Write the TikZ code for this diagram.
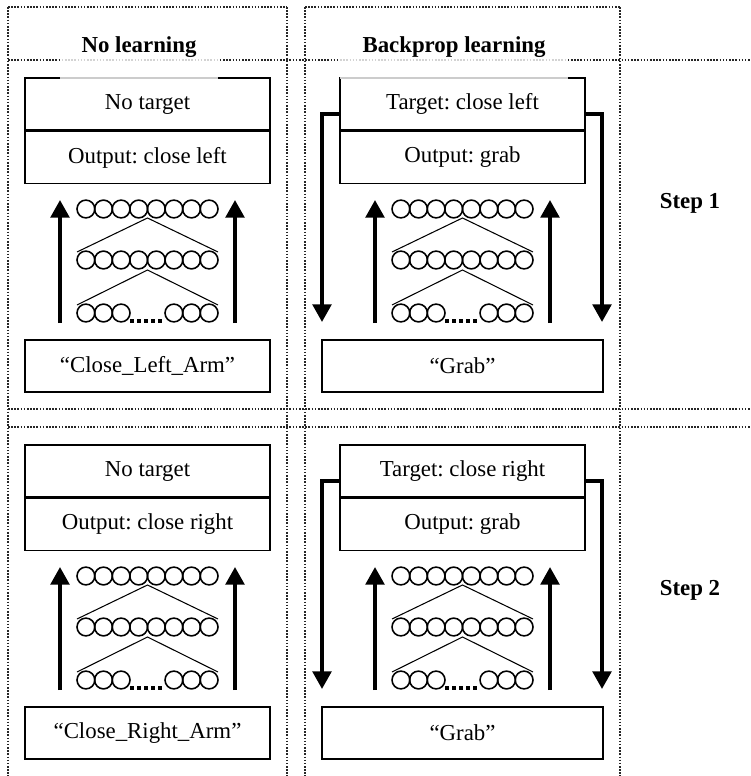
\documentclass[tikz,border=0pt]{standalone}
\usepackage{fontspec}
\setmainfont{Liberation Serif}
\usetikzlibrary{positioning,arrows.meta}
\frenchspacing

\tikzset{
  box/.style={draw, line width=0.8pt, minimum width=4.9cm, minimum height=1.04cm, inner sep=0pt},
  cellline/.style={line width=0.7pt, dash pattern=on 0.9pt off 0.9pt, black!85},
  flow/.style={line width=2.2pt, -{Triangle[width=10.5pt,length=10pt]}},
  neuron/.style={line width=0.9pt},
  heading/.style={font=\fontsize{13}{15}\selectfont\bfseries},
  title/.style={heading, fill=white, fill opacity=0.8, text opacity=1, minimum height=1.26cm, inner sep=0pt}
}

\begin{document}
\begin{tikzpicture}[x=0.02cm, y=-0.02cm, font=\fontsize{13}{15}\selectfont]
  \useasboundingbox (0,0) rectangle (750,776);

  % dotted grid
  \foreach \x in {8,287,305,620}
    \draw[cellline] (\x,7) -- (\x,776);
  \draw[cellline] (8,7) -- (287,7);
  \draw[cellline] (305,7) -- (620,7);
  \foreach \y in {60,409,427}
    \draw[cellline] (8,\y) -- (750,\y);

  % two steps
  \foreach \s/\dy/\sy/\nlo/\nli/\bpt in {1/0/203/close left/{“Close\_Left\_Arm”}/close left,
                                         2/367/590/close right/{“Close\_Right\_Arm”}/close right}{
    \node[box] (nltgt\s) at (147.5,{104+\dy}) {No target};
    \node[box, below=0pt of nltgt\s] (nlout\s) {Output: \nlo};
    \node[box] (nlin\s) at (147.5,{366+\dy}) {\nli};

    \node[box] (bptgt\s) at (462.5,{104+\dy}) {Target: \bpt};
    \node[box, below=0pt of bptgt\s] (bpout\s) {Output: grab};
    \node[box, minimum width=5.62cm] (bpin\s) at (462.5,{366+\dy}) {“Grab”};

    % error fed back
    \coordinate (fbl\s) at (322,{322+\dy});
    \coordinate (fbr\s) at (602,{322+\dy});
    \draw[flow] ([yshift=-0.2cm]bptgt\s.west) -| (fbl\s);
    \draw[flow] ([yshift=-0.2cm]bptgt\s.east) -| (fbr\s);

    \node[heading] (step\s) at (690,\sy) {Step \s};

    % network
    \foreach \c/\cx in {nl/147.5, bp/462.5}{
      \foreach \i in {0,...,7}{
        \draw[neuron] ({\cx-61.6+17.6*\i},{209+\dy}) circle (0.178cm);
        \draw[neuron] ({\cx-61.6+17.6*\i},{260+\dy}) circle (0.178cm);
      }
      \foreach \i in {0,1,2,5,6,7}
        \draw[neuron] ({\cx-61.6+17.6*\i},{313+\dy}) circle (0.178cm);
      \draw[line width=2pt, dash pattern=on 2.3pt off 1.7pt] ({\cx-17.5},{321+\dy}) -- ({\cx+17.5},{321+\dy});
      \draw[line width=0.6pt] ({\cx-70.5},{252+\dy}) -- (\cx,{218+\dy}) -- ({\cx+70.5},{252+\dy});
      \draw[line width=0.6pt] ({\cx-70.5},{305+\dy}) -- (\cx,{270+\dy}) -- ({\cx+70.5},{305+\dy});

      \coordinate (\c lo\s) at ({\cx-87.5},{323+\dy});
      \coordinate (\c lu\s) at ({\cx-87.5},{200+\dy});
      \coordinate (\c ro\s) at ({\cx+87.5},{323+\dy});
      \coordinate (\c ru\s) at ({\cx+87.5},{200+\dy});
      \draw[flow] (\c lo\s) -- (\c lu\s);
      \draw[flow] (\c ro\s) -- (\c ru\s);
    }
  }

  % column titles
  \node[title, minimum width=3.16cm] (nltitle) at (139,47.5) {No learning};
  \node[title, minimum width=4.56cm] (bptitle) at (454,47.5) {Backprop learning};
\end{tikzpicture}
\end{document}
